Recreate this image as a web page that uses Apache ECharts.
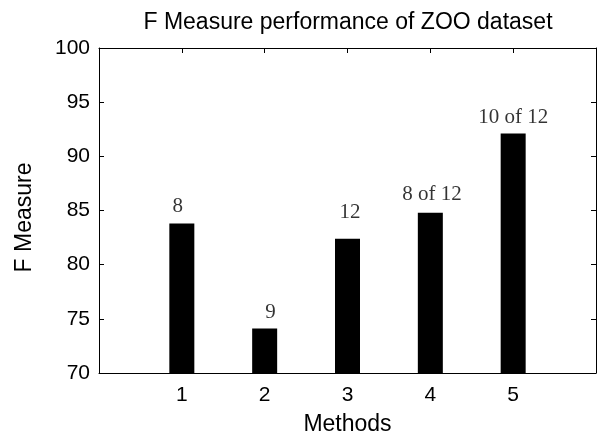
<!DOCTYPE html>
<html>
<head>
<meta charset="utf-8">
<script src="https://cdn.jsdelivr.net/npm/echarts@6/dist/echarts.min.js"></script>
<style>
html,body{margin:0;padding:0;background:#fff;}
#chart{width:599px;height:438px;}
</style>
</head>
<body>
<div id="chart"></div>
<script>
// Data
const methods = [1, 2, 3, 4, 5];
const fMeasure = [83.8, 74.1, 82.4, 84.8, 92.1];
const annotationText = ['8', '9', '12', '8 of 12', '10 of 12'];
const annotationX = [0.95, 2.07, 3.03, 4.02, 5.0];
const annotationY = [85.4, 75.6, 84.8, 86.5, 93.6];
const yTicks = [70, 75, 80, 85, 90, 95, 100];

const chart = echarts.init(document.getElementById('chart'), null, {renderer: 'canvas'});
const axisColor = '#000';
const sans = 'Liberation Sans, Arial, sans-serif';
const serif = 'Liberation Serif, Times New Roman, serif';

const barData = methods.map((m, i) => [m, fMeasure[i]]);
const annData = annotationText.map((t, i) => ({value: [annotationX[i], annotationY[i]], name: t}));

const xCommon = {
  type: 'value', min: 0, max: 6, interval: 1,
  axisLine: {show: true, onZero: false, lineStyle: {color: axisColor, width: 1}},
  axisTick: {show: true, inside: true, length: 5, lineStyle: {color: axisColor}},
  splitLine: {show: false}
};
const yCommon = {
  type: 'value', min: yTicks[0], max: yTicks[yTicks.length - 1], interval: 5,
  axisLine: {show: true, onZero: false, lineStyle: {color: axisColor, width: 1}},
  axisTick: {show: true, inside: true, length: 5, lineStyle: {color: axisColor}},
  splitLine: {show: false}
};

chart.setOption({
  animation: false,
  backgroundColor: '#fff',
  title: {
    text: 'F Measure performance of ZOO dataset',
    left: 343, top: 6, textAlign: 'center',
    textStyle: {fontFamily: sans, fontSize: 23, fontWeight: 'normal', color: '#000'}
  },
  grid: {left: 99, right: 3, top: 48, bottom: 65, containLabel: false, outerBoundsMode: 'none'},
  xAxis: [
    Object.assign({}, xCommon, {
      position: 'bottom',
      name: 'Methods', nameLocation: 'middle', nameGap: 40,
      nameTextStyle: {fontFamily: sans, fontSize: 23, color: '#000'},
      axisLabel: {
        show: true, margin: 12, fontFamily: sans, fontSize: 21, color: '#000',
        formatter: v => (methods.indexOf(v) >= 0 ? String(v) : '')
      }
    }),
    Object.assign({}, xCommon, {position: 'top', axisLabel: {show: false}})
  ],
  yAxis: [
    Object.assign({}, yCommon, {
      position: 'left',
      name: 'F Measure', nameLocation: 'middle', nameGap: 63, nameRotate: 90,
      nameTextStyle: {fontFamily: sans, fontSize: 23, color: '#000', padding: [0, 14, 0, 0]},
      axisLabel: {show: true, margin: 9, fontFamily: sans, fontSize: 21, color: '#000'}
    }),
    Object.assign({}, yCommon, {position: 'right', axisLabel: {show: false}})
  ],
  series: [
    {
      type: 'bar', xAxisIndex: 0, yAxisIndex: 0,
      data: barData, barWidth: 25,
      itemStyle: {color: '#000'},
      clip: true
    },
    {
      type: 'scatter', xAxisIndex: 0, yAxisIndex: 0,
      data: annData, symbolSize: 0,
      label: {
        show: true, position: 'inside',
        formatter: p => p.name,
        fontFamily: serif, fontSize: 21, color: '#000'
      },
      silent: true
    }
  ]
});
</script>
</body>
</html>
